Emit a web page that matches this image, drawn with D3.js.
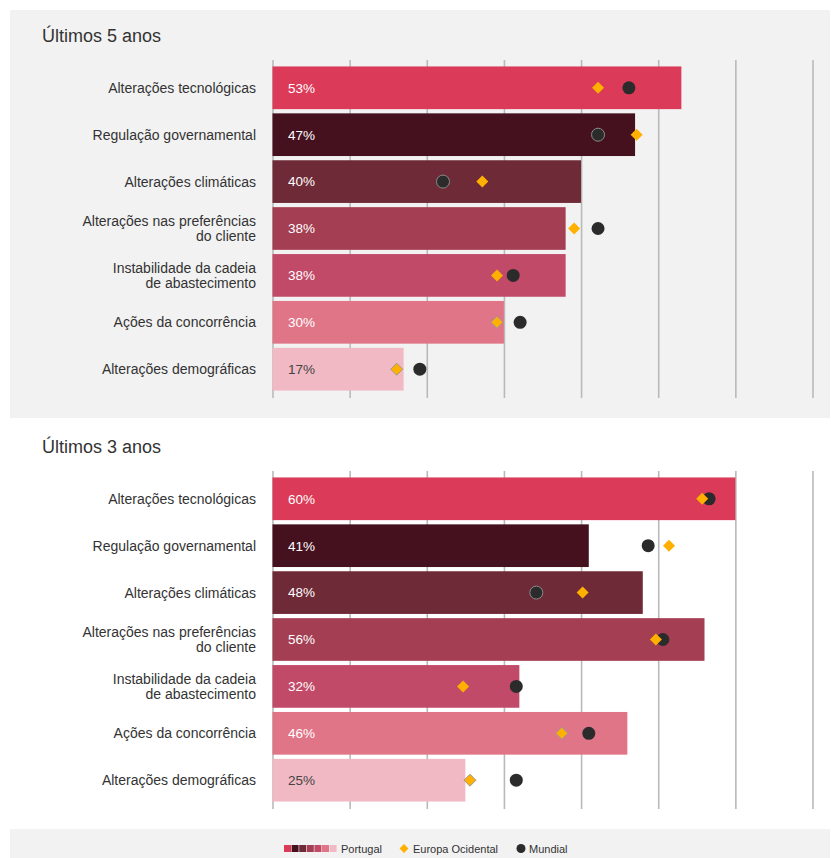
<!DOCTYPE html>
<html>
<head>
<meta charset="utf-8">
<script src="https://cdn.jsdelivr.net/npm/d3@7/dist/d3.min.js"></script>
<style>
  html, body { margin: 0; padding: 0; background: #ffffff; }
  svg { display: block; font-family: "Liberation Sans", Arial, sans-serif; }
</style>
</head>
<body>
<svg id="chart" width="831" height="858"></svg>
<script>
// Drivers of change, share of respondents (%)
const categories = [
  "Alterações tecnológicas",
  "Regulação governamental",
  "Alterações climáticas",
  "Alterações nas preferências\ndo cliente",
  "Instabilidade da cadeia\nde abastecimento",
  "Ações da concorrência",
  "Alterações demográficas"
];

const periods = ["Últimos 5 anos", "Últimos 3 anos"];

// Last 5 years
const portugal5 = [53, 47, 40, 38, 38, 30, 17];
const europa5   = [42.2, 47.2, 27.2, 39.1, 29.1, 29.1, 16.1];
const mundial5  = [46.2, 42.2, 22.1, 42.2, 31.2, 32.1, 19.1];

// Last 3 years
const portugal3 = [60, 41, 48, 56, 32, 46, 25];
const europa3   = [55.7, 51.4, 40.2, 49.7, 24.7, 37.5, 25.6];
const mundial3  = [56.6, 48.7, 34.2, 50.6, 31.6, 41.0, 31.6];

const gridTicks = [0, 10, 20, 30, 40, 50, 60, 70];
const legendLabels = ["Portugal", "Europa Ocidental", "Mundial"];

// ---- styling ----
const barColors = ["#db3a58", "#46111f", "#6e2a36", "#a43e53", "#c14a69", "#e17588", "#f1b9c4"];
const diamondColor = "#ffb000";
const dotColor = "#2b2b2b";
const panelGray = "#f2f2f2";
const textColor = "#333333";

const svg = d3.select("#chart");

const x = d3.scaleLinear().domain([0, 70]).range([272.5, 812.5]);

const datasets = [
  { title: periods[0], pt: portugal5, eu: europa5, wd: mundial5, offset: 0 },
  { title: periods[1], pt: portugal3, eu: europa3, wd: mundial3, offset: 411 }
];

// grey band behind the first panel
svg.append("rect").attr("x", 10).attr("y", 10).attr("width", 820).attr("height", 408).attr("fill", panelGray);
// grey legend band
svg.append("rect").attr("x", 10).attr("y", 829).attr("width", 820).attr("height", 29).attr("fill", panelGray);

const diamond = d3.symbol().type(d3.symbolDiamond2).size(92);

datasets.forEach(ds => {
  const g = svg.append("g").attr("transform", `translate(0,${ds.offset})`);

  g.append("text")
    .attr("x", 42).attr("y", 42)
    .attr("font-size", 18).attr("fill", textColor)
    .text(ds.title);

  const top = 60, bottom = 398;
  const y = d3.scaleBand()
    .domain(d3.range(categories.length))
    .range([top, 397])
    .paddingInner(0.09)
    .paddingOuter(0.1375);

  // vertical gridlines
  const grid = g.append("g")
    .attr("transform", `translate(0,${bottom})`)
    .call(d3.axisBottom(x).tickValues(gridTicks).tickSize(-(bottom - top)).tickFormat(""));
  grid.select(".domain").remove();
  grid.selectAll(".tick line").attr("stroke", "#b9b9b9").attr("stroke-width", 1.6);

  // bars
  g.selectAll("rect.bar").data(ds.pt).join("rect")
    .attr("class", "bar")
    .attr("x", x(0))
    .attr("y", (d, i) => y(i))
    .attr("width", d => x(d) - x(0))
    .attr("height", y.bandwidth())
    .attr("fill", (d, i) => barColors[i]);

  // value labels
  g.selectAll("text.val").data(ds.pt).join("text")
    .attr("class", "val")
    .attr("x", x(0) + 15.5)
    .attr("y", (d, i) => y(i) + y.bandwidth() / 2)
    .attr("dy", "0.36em")
    .attr("font-size", 13.5).attr("fill", (d, i) => i === 6 ? "#444444" : "#ffffff")
    .text(d => d + "%");

  // category labels
  categories.forEach((c, i) => {
    const lines = c.split("\n");
    const cy = y(i) + y.bandwidth() / 2;
    const t = g.append("text")
      .attr("x", 256).attr("text-anchor", "end")
      .attr("font-size", 14).attr("fill", textColor);
    lines.forEach((ln, k) => {
      t.append("tspan")
        .attr("x", 256)
        .attr("y", cy + (k - (lines.length - 1) / 2) * 15)
        .attr("dy", "0.36em")
        .text(ln);
    });
  });

  // Mundial dots
  g.selectAll("circle.wd").data(ds.wd).join("circle")
    .attr("class", "wd")
    .attr("cx", d => x(d))
    .attr("cy", (d, i) => y(i) + y.bandwidth() / 2)
    .attr("r", 6.5)
    .attr("fill", dotColor)
    .attr("stroke", (d, i) => (i === 1 || i === 2) && d < ds.pt[i] ? "#8a8a8a" : "none")
    .attr("stroke-width", 1);

  // Europa Ocidental diamonds
  g.selectAll("path.eu").data(ds.eu).join("path")
    .attr("class", "eu")
    .attr("transform", (d, i) => `translate(${x(d)},${y(i) + y.bandwidth() / 2})`)
    .attr("d", diamond)
    .attr("fill", diamondColor)
    .attr("stroke", (d, i) => i >= 5 ? "#999999" : "none")
    .attr("stroke-width", 1);
});

// legend
const lg = svg.append("g");
const ly = 849;
barColors.forEach((c, i) => {
  lg.append("rect")
    .attr("x", 284 + i * 7.6).attr("y", ly - 4)
    .attr("width", 7).attr("height", 7)
    .attr("fill", c);
});
lg.append("text").attr("x", 341).attr("y", ly).attr("dy", "0.36em")
  .attr("font-size", 11).attr("fill", textColor).text(legendLabels[0]);
lg.append("path")
  .attr("transform", `translate(404,${ly - 0.5})`)
  .attr("d", d3.symbol().type(d3.symbolDiamond2).size(50))
  .attr("fill", diamondColor);
lg.append("text").attr("x", 413).attr("y", ly).attr("dy", "0.36em")
  .attr("font-size", 11).attr("fill", textColor).text(legendLabels[1]);
lg.append("circle").attr("cx", 521).attr("cy", ly - 0.5).attr("r", 4.5).attr("fill", dotColor);
lg.append("text").attr("x", 529).attr("y", ly).attr("dy", "0.36em")
  .attr("font-size", 11).attr("fill", textColor).text(legendLabels[2]);
</script>
</body>
</html>
